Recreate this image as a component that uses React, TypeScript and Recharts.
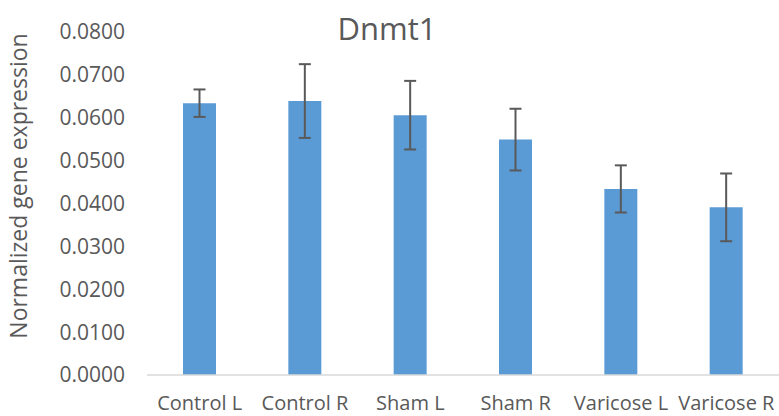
import React from 'react';
import { BarChart, Bar, XAxis, YAxis, ErrorBar } from 'recharts';

const categories = ['Control L', 'Control R', 'Sham L', 'Sham R', 'Varicose L', 'Varicose R'];
const means = [0.0634, 0.0639, 0.0606, 0.0549, 0.0434, 0.0391];
const errors = [0.0032, 0.0086, 0.0080, 0.0072, 0.0055, 0.0079];
const yTicks = [0, 0.01, 0.02, 0.03, 0.04, 0.05, 0.06, 0.07, 0.08];

const data = categories.map((name, i) => ({ name, value: means[i], err: errors[i] }));

const FONT = '"Open Sans", sans-serif';
const TXT = '#595959';

export default function App() {
  return (
    <div style={{ position: 'absolute', left: 0, top: 0, width: 779, height: 416, background: '#fff' }}>
      <BarChart width={779} height={416} data={data} margin={{ top: 32, right: 0, left: 0, bottom: 0 }}>
        <text x={387} y={40} textAnchor="middle" fontFamily={FONT} fontSize={31} fill={TXT}>Dnmt1</text>
        <text
          x={0}
          y={0}
          transform="translate(27,186) rotate(-90)"
          textAnchor="middle"
          fontFamily={FONT}
          fontSize={23}
          fill={TXT}
        >
          Normalized gene expression
        </text>
        <XAxis
          dataKey="name"
          height={41}
          tickLine={false}
          axisLine={{ stroke: '#D9D9D9', strokeWidth: 1.5 }}
          tick={{ fontFamily: FONT, fontSize: 20, fill: TXT }}
          tickMargin={15}
          interval={0}
        />
        <YAxis
          width={147}
          domain={[0, 0.08]}
          ticks={yTicks}
          tickFormatter={(v: number) => v.toFixed(4)}
          axisLine={false}
          tickLine={false}
          tickMargin={16}
          tick={{ fontFamily: FONT, fontSize: 21, fill: TXT }}
          interval={0}
        />
        <Bar dataKey="value" fill="#5B9BD5" barSize={33} isAnimationActive={false}>
          <ErrorBar dataKey="err" width={6} stroke="#595959" strokeWidth={2} direction="y" />
        </Bar>
      </BarChart>
    </div>
  );
}
